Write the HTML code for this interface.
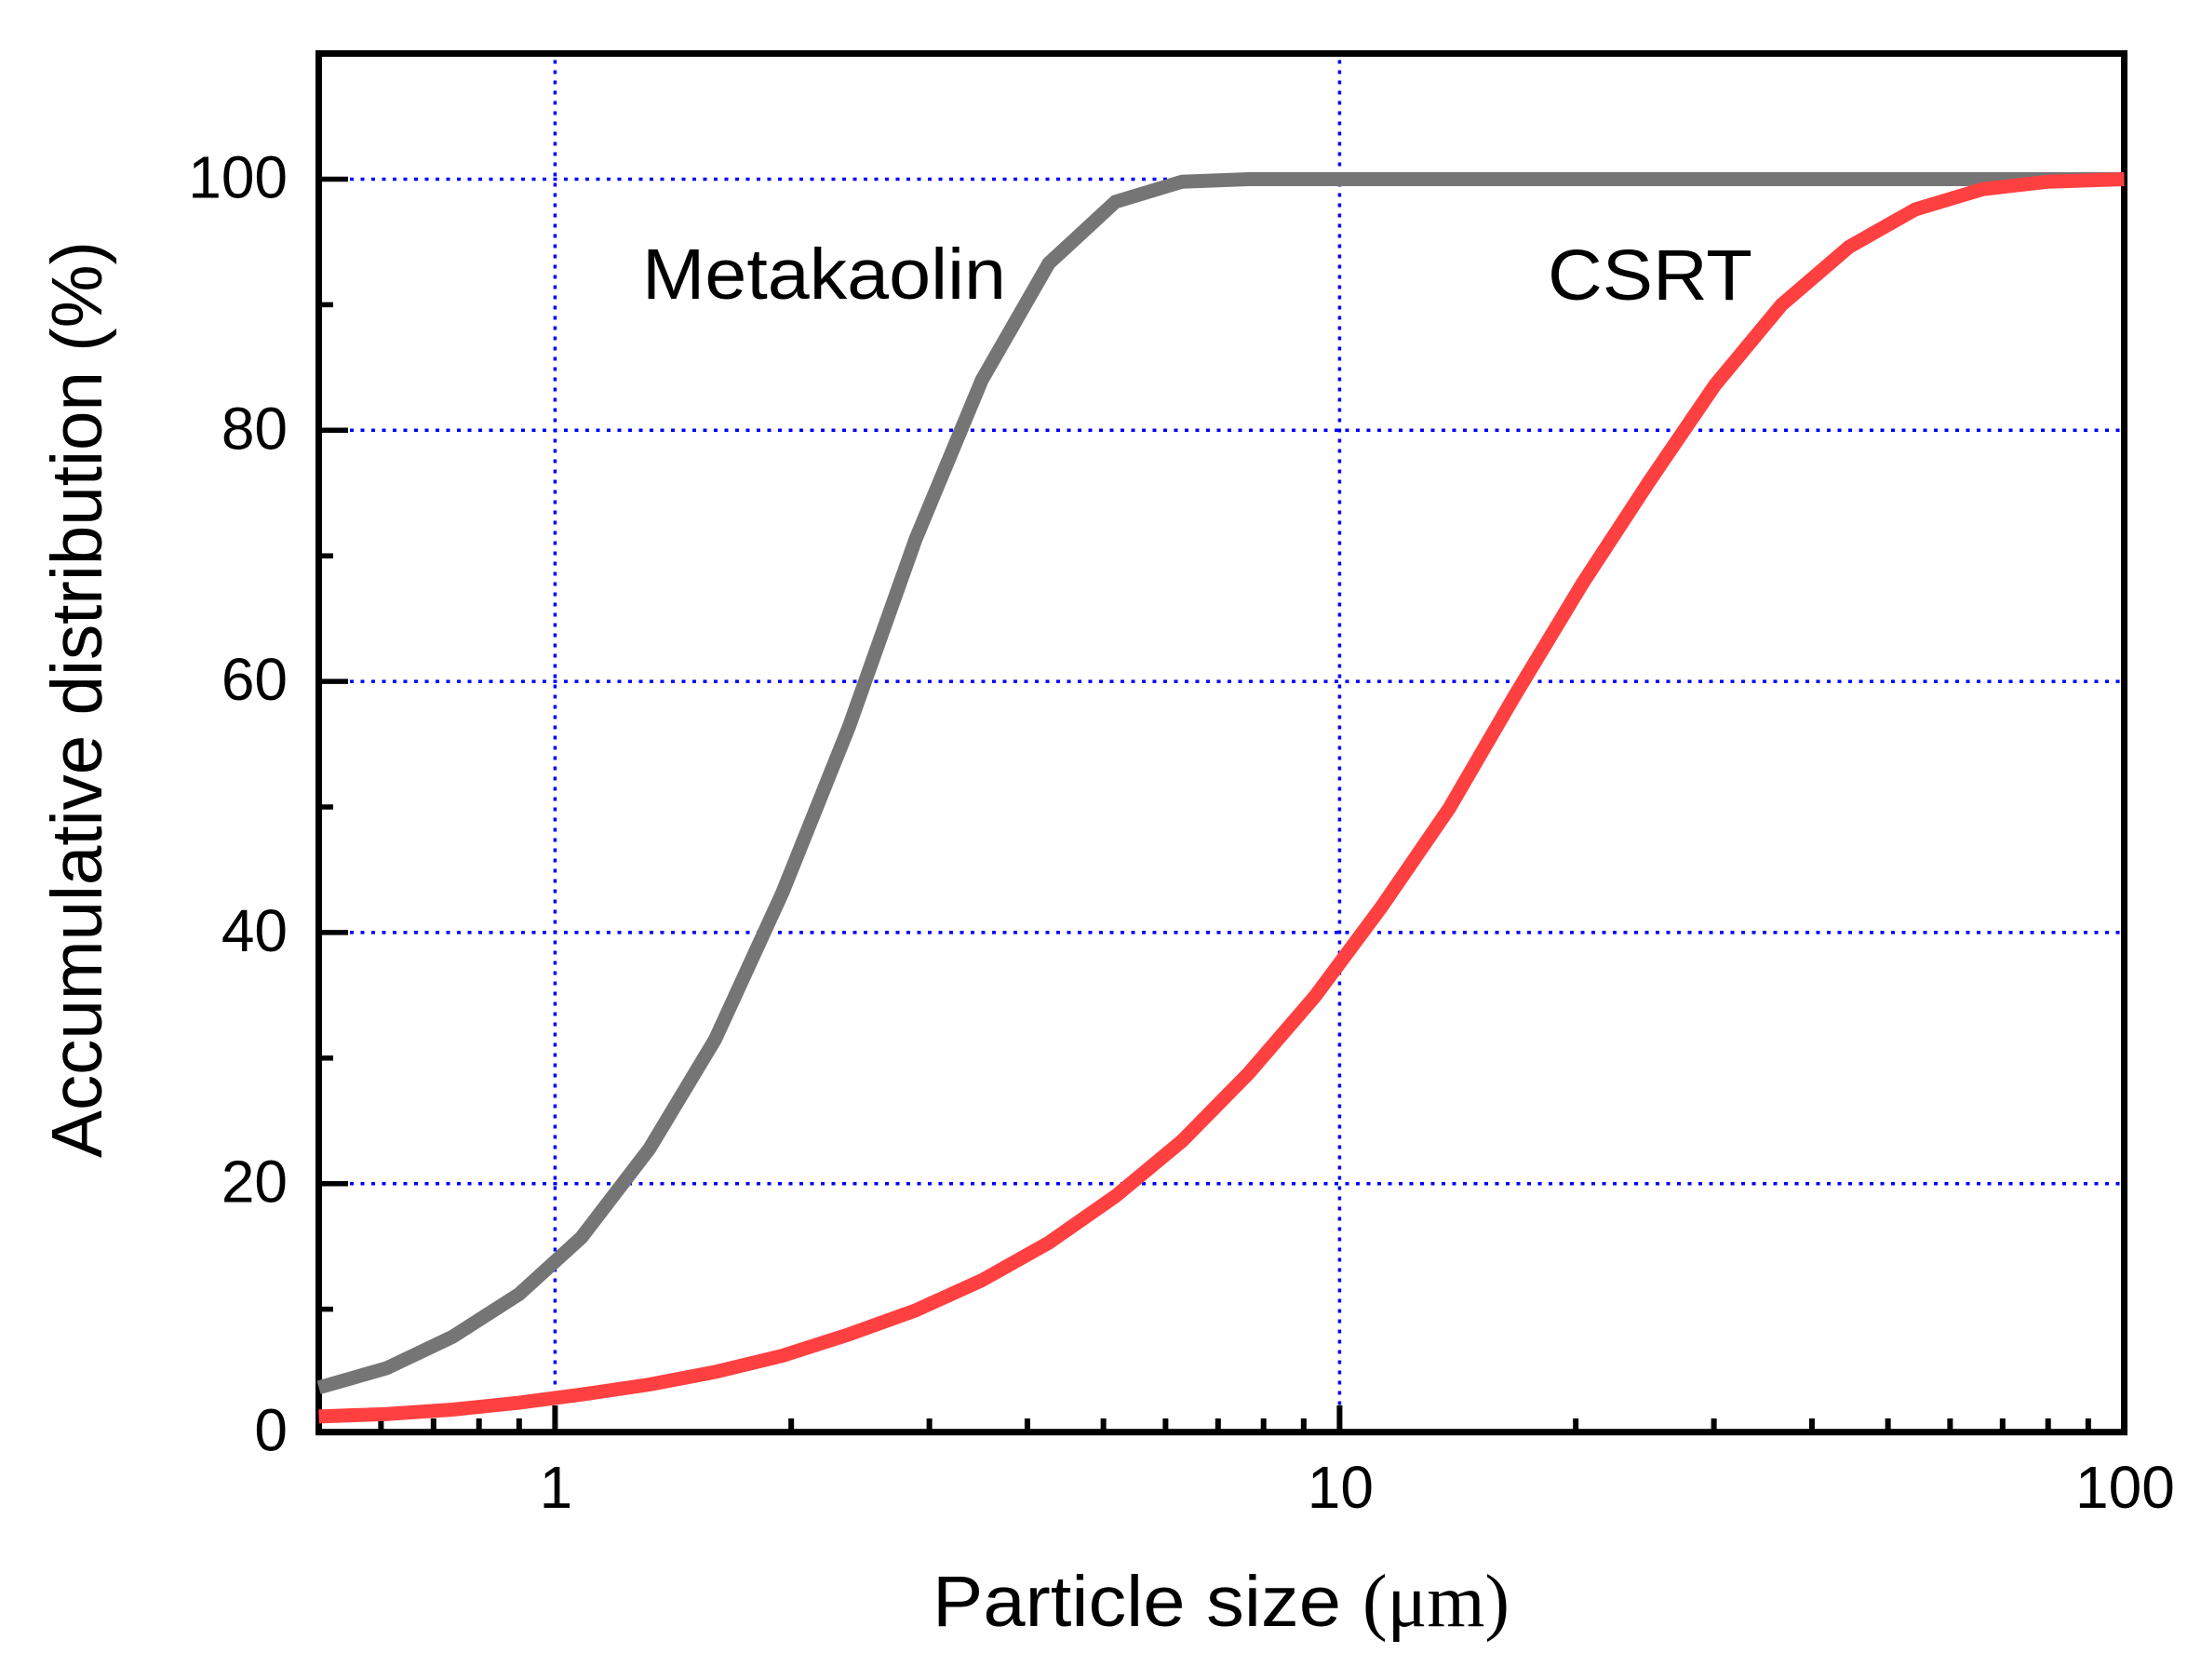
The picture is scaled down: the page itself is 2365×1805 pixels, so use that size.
<!DOCTYPE html>
<html lang="en">
<head>
<meta charset="utf-8">
<title>Particle size distribution</title>
<style>
html,body{margin:0;padding:0;background:#fff;}
svg{display:block;}
text{font-family:"Liberation Sans",sans-serif;fill:#000;}
</style>
</head>
<body>
<svg id="chart" xmlns="http://www.w3.org/2000/svg" width="2365" height="1805" viewBox="0 0 2365 1805">
<rect x="0" y="0" width="2365" height="1805" fill="#fff"/>
<g id="grid"></g>
<g id="axes"></g>
<g id="series"></g>
<g id="labels"></g>
<text x="690" y="321" font-size="77" textLength="391" lengthAdjust="spacingAndGlyphs">Metakaolin</text>
<text x="1663" y="322" font-size="77" textLength="220" lengthAdjust="spacingAndGlyphs">CSRT</text>
<text y="1747" font-size="77"><tspan x="1002" textLength="439" lengthAdjust="spacingAndGlyphs">Particle size</tspan><tspan x="1464" textLength="158" lengthAdjust="spacingAndGlyphs" font-size="80" style="font-family:'Liberation Serif',serif">(μm)</tspan></text>
<text transform="translate(109,1244) rotate(-90)" font-size="77" textLength="985" lengthAdjust="spacingAndGlyphs">Accumulative distribution (%)</text>
</svg>
<script>
const particleSizes = [0.5,0.61,0.74,0.9,1.08,1.32,1.6,1.95,2.37,2.88,3.5,4.26,5.18,6.3,7.66,9.3,11.3,13.8,16.7,20.4,24.8,30.1,36.6,44.6,54.2,66,80,100];
const metakaolinValues = [3.76,5.3,7.8,11.2,15.7,22.8,31.5,43.2,56.4,71.3,84,93.3,98.2,99.8,100,100,100,100,100,100,100,100,100,100,100,100,100,100];
const csrtValues = [1.45,1.65,2,2.55,3.2,4,5,6.3,8,9.9,12.3,15.3,19,23.4,28.8,34.9,42,49.9,58.8,67.8,75.9,83.6,90,94.6,97.6,99.2,99.8,100];
const xMajorTicks = [1,10,100];
const xMinorTicks = [0.6,0.7,0.8,0.9,2,3,4,5,6,7,8,9,20,30,40,50,60,70,80,90];
const yMajorTicks = [0,20,40,60,80,100];
const yMinorTicks = [10,30,50,70,90];
const xGridValues = [1,10];
const yGridValues = [20,40,60,80,100];

const NS = 'http://www.w3.org/2000/svg';
const plotLeft = 342.5, plotRight = 2282.5, plotTop = 57.5, plotBottom = 1538.7;
function xScale(v){ return 596.4 + (Math.log10(v)) * 843; }
function yScale(v){ return 1541.5 - v * 13.49; }
function make(tag, attrs, parent){
  const el = document.createElementNS(NS, tag);
  for (const k in attrs) el.setAttribute(k, attrs[k]);
  parent.appendChild(el);
  return el;
}
const gridGroup = document.getElementById('grid');
const axesGroup = document.getElementById('axes');
const seriesGroup = document.getElementById('series');
const labelsGroup = document.getElementById('labels');

xGridValues.forEach(function(v){
  const el = make('line', {x1:xScale(v), x2:xScale(v), y1:plotTop+7, y2:1510, stroke:'#0000ff', 'stroke-width':3.5, 'stroke-dasharray':'4 7'}, gridGroup);
  
  
});
yGridValues.forEach(function(v){
  const el = make('line', {x1:376, x2:plotRight-4, y1:yScale(v), y2:yScale(v), stroke:'#0000ff', 'stroke-width':3.5, 'stroke-dasharray':'4 7.5'}, gridGroup);
  
  
});

const frame = make('rect', {x:plotLeft, y:plotTop, width:plotRight-plotLeft, height:plotBottom-plotTop, fill:'none', stroke:'#000', 'stroke-width':7}, axesGroup);



xMajorTicks.forEach(function(v){
  const t = make('line', {x1:xScale(v), x2:xScale(v), y1:plotBottom, y2:1510, stroke:'#000', 'stroke-width':6}, axesGroup);
  
  
  const l = make('text', {x:xScale(v)+1, y:1620, 'font-size':64, 'text-anchor':'middle'}, labelsGroup);
  l.textContent = String(v);
  
  
});
xMinorTicks.forEach(function(v){
  const t = make('line', {x1:xScale(v), x2:xScale(v), y1:plotBottom, y2:1524, stroke:'#000', 'stroke-width':6}, axesGroup);
  
  
});
yMajorTicks.forEach(function(v){
  const tickY = Math.min(yScale(v), plotBottom);
  const t = make('line', {x1:plotLeft, x2:374, y1:tickY, y2:tickY, stroke:'#000', 'stroke-width':5.5}, axesGroup);
  
  
  const l = make('text', {x:309, y:tickY+20, 'font-size':64, 'text-anchor':'end'}, labelsGroup);
  l.textContent = String(v);
  
  
});
yMinorTicks.forEach(function(v){
  const t = make('line', {x1:plotLeft, x2:358, y1:yScale(v), y2:yScale(v), stroke:'#000', 'stroke-width':5.5}, axesGroup);
  
  
});

function pointsFor(values){
  return values.map(function(v,i){ return xScale(particleSizes[i]).toFixed(1)+','+yScale(v).toFixed(1); }).join(' ');
}
const grayLine = make('polyline', {points:pointsFor(metakaolinValues), fill:'none', stroke:'#757575', 'stroke-width':15}, seriesGroup);


const redLine = make('polyline', {points:pointsFor(csrtValues), fill:'none', stroke:'#ff4040', 'stroke-width':15}, seriesGroup);


</script>
</body>
</html>
